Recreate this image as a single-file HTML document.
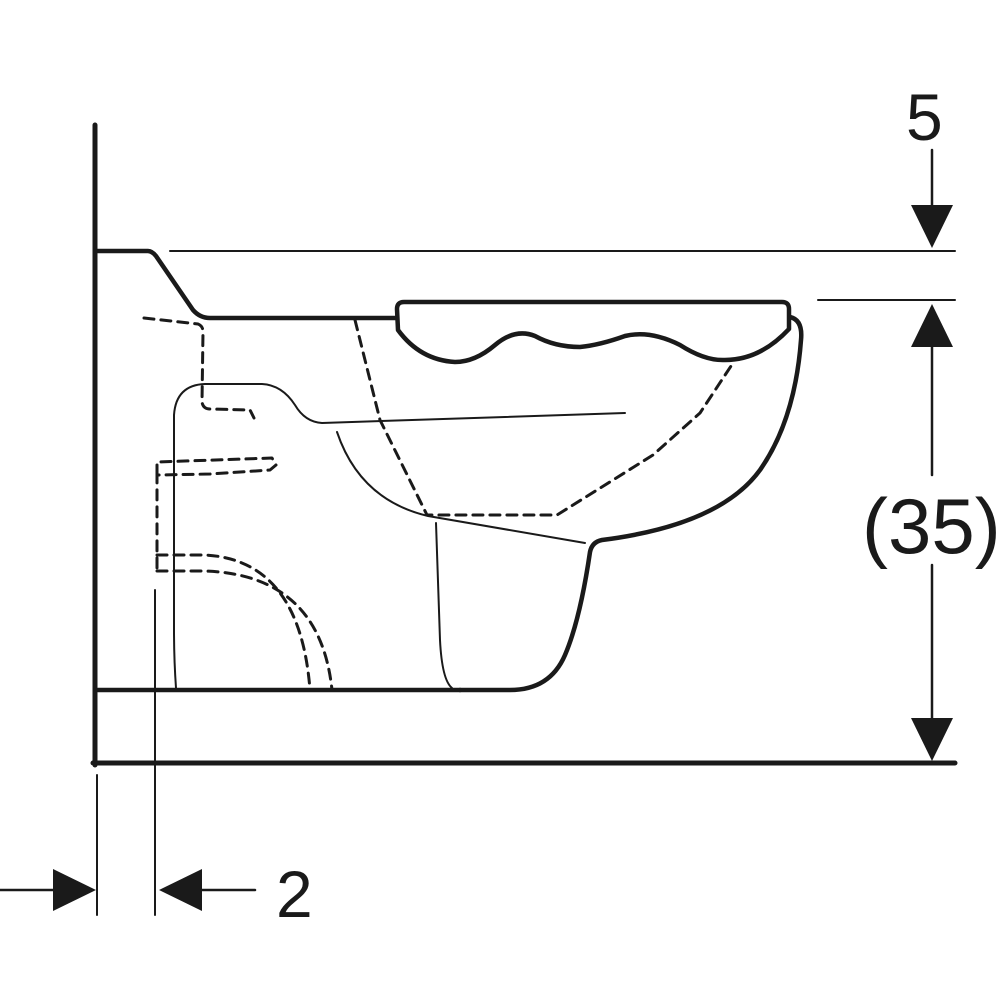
<!DOCTYPE html>
<html><head><style>body{margin:0;background:#fff}svg{display:block}</style></head><body>
<svg width="1000" height="1000" viewBox="0 0 1000 1000" xmlns="http://www.w3.org/2000/svg" fill="none" stroke="#1a1a1a" stroke-linecap="round" stroke-linejoin="round">
<line x1="95" y1="125" x2="95" y2="765" stroke-width="5"/>
<line x1="93" y1="763" x2="955" y2="763" stroke-width="5"/>
<line x1="170" y1="251" x2="955" y2="251" stroke-width="2"/>
<line x1="818" y1="300" x2="955" y2="300" stroke-width="2"/>
<path d="M96 251 L148 251 Q152 251 156 256 L193 310 Q200 318 210 318 L397 318" stroke-width="4.5"/>
<path d="M404 302 L782 302 Q789 302 789 309 L789 329 Q760 360 725 360 Q705 361 680 345 Q650 330 625 336 Q600 345 580 347 Q555 347 535 336 Q515 328 495 345 Q475 362 455 362 Q420 360 398 330 L397 309 Q397 302 404 302 Z" stroke-width="4.5"/>
<path d="M790 317 Q803 320 801 340 Q795 420 760 470 Q720 525 602 540 Q592 542 590 552 Q580 620 565 655 Q550 690 510 690 L460 690" stroke-width="4.5"/>
<path d="M98 690 L175 690 L460 690" stroke-width="4.5"/>
<path d="M176 688 Q174 660 174 630 L174 415 Q176 385 205 384 L262 384 Q282 385 295 405 Q305 422 322 423 L625 413" stroke-width="2"/>
<path d="M337 432 Q360 500 428 516 L585 543" stroke-width="2"/>
<path d="M436 523 L440 640 Q442 680 452 688" stroke-width="2"/>
<line x1="155" y1="590" x2="155" y2="915" stroke-width="2"/>
<line x1="97" y1="775" x2="97" y2="915" stroke-width="2"/>
<g stroke-width="3" stroke-dasharray="10 7">
<path d="M144 318 L198 324 Q203 326 203 332 L202 402 Q203 409 210 409 L250 410 L254 418"/>
<path d="M355 320 L380 420 L427 515 L557 515 L653 455 L700 413 L733 363"/>
<path d="M157 475 L157 462 L272 458 L276 465 L270 470 L210 474 L157 475 L157 570"/>
<path d="M157 555 L205 555 Q300 560 310 690"/>
<path d="M157 571 L205 571 Q320 575 332 690"/>
</g>
<line x1="932" y1="150" x2="932" y2="215" stroke-width="2.5"/>
<polygon points="911,205 953,205 932,248" fill="#1a1a1a" stroke="none"/>
<line x1="932" y1="340" x2="932" y2="475" stroke-width="2.5"/>
<line x1="932" y1="565" x2="932" y2="725" stroke-width="2.5"/>
<polygon points="911,347 953,347 932,304" fill="#1a1a1a" stroke="none"/>
<polygon points="911,718 953,718 932,761" fill="#1a1a1a" stroke="none"/>
<line x1="0" y1="890" x2="60" y2="890" stroke-width="2.5"/>
<polygon points="53,869 53,911 96,890" fill="#1a1a1a" stroke="none"/>
<line x1="195" y1="890" x2="255" y2="890" stroke-width="2.5"/>
<polygon points="202,869 202,911 159,890" fill="#1a1a1a" stroke="none"/>
<g fill="#1a1a1a" stroke="none" font-family="Liberation Sans, sans-serif" font-size="66">
<text x="906" y="140">5</text>
<text x="862" y="553" font-size="78">(35)</text>
<text x="276" y="917">2</text>
</g>
</svg>
</body></html>
